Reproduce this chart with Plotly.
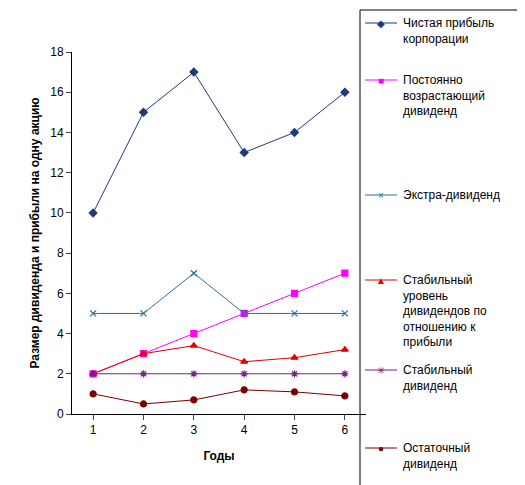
import plotly.graph_objects as go

years = [1, 2, 3, 4, 5, 6]
names = ["Чистая прибыль<br>корпорации",
         "Постоянно<br>возрастающий<br>дивиденд",
         "Экстра-дивиденд",
         "Стабильный<br>уровень<br>дивидендов по<br>отношению к<br>прибыли",
         "Стабильный<br>дивиденд",
         "Остаточный<br>дивиденд"]
profit = [10, 15, 17, 13, 14, 16]
growing = [2, 3, 4, 5, 6, 7]
extra = [5, 5, 7, 5, 5, 5]
ratio = [2, 3, 3.4, 2.6, 2.8, 3.2]
stable = [2, 2, 2, 2, 2, 2]
residual = [1, 0.5, 0.7, 1.2, 1.1, 0.9]

series = [profit, growing, extra, ratio, stable, residual]
colors = ["#1F3A7A", "#FF00FF", "#2E6E9E", "#E00000", "#7A1F8C", "#7A0000"]
symbols = ["diamond", "square", "x-thin", "triangle-up", "asterisk-open", "circle"]
glyphs = ["◆", "■", "×", "▲", "✳", "●"]
legend_py = [15, 72, 187, 272, 362, 440]  # pixel rows of legend entries

L, T, W, H = 64, 44, 294, 362
def px(x): return (x - L) / W
def py(y): return (T + H - y) / H

fig = go.Figure()
for n, s, c, m in zip(names, series, colors, symbols):
    fig.add_trace(go.Scatter(x=years, y=s, name=n, mode="lines+markers",
                             line=dict(color=c, width=1),
                             marker=dict(symbol=m, size=6, color=c,
                                         line=dict(color=c, width=1.2))))

shapes = [dict(type="rect", xref="paper", yref="paper", x0=px(352), x1=px(515),
               y0=py(478), y1=py(2), line=dict(color="black", width=1))]
annotations = []
for n, c, g, yy in zip(names, colors, glyphs, legend_py):
    shapes.append(dict(type="line", xref="paper", yref="paper", x0=px(357), x1=px(389),
                       y0=py(yy), y1=py(yy), line=dict(color=c, width=1)))
    annotations.append(dict(xref="paper", yref="paper", x=px(373), y=py(yy), text=g,
                            showarrow=False, font=dict(color=c, size=10),
                            xanchor="center", yanchor="middle"))
    annotations.append(dict(xref="paper", yref="paper", x=px(393), y=py(yy - 9), text=n,
                            showarrow=False, align="left", xanchor="left", yanchor="top",
                            font=dict(size=12)))

fig.update_layout(
    width=525, height=485,
    margin=dict(l=L, r=525 - L - W, t=T, b=485 - T - H, autoexpand=False),
    paper_bgcolor="white", plot_bgcolor="white",
    font=dict(family="Liberation Sans, Arial", size=12, color="black"),
    showlegend=False, shapes=shapes, annotations=annotations,
    xaxis=dict(range=[0.58, 6.42], tickvals=years, showline=True,
               linecolor="black", ticks="outside", showgrid=False, zeroline=False,
               title=dict(text="<b>Годы</b>", font=dict(size=12))),
    yaxis=dict(range=[0, 18], dtick=2, showline=True, linecolor="black",
               ticks="outside", showgrid=False, zeroline=False,
               title=dict(text="<b>Размер дивиденда и прибыли на одну акцию</b>",
                          font=dict(size=12), standoff=8)),
)
fig.write_html("out.html")
